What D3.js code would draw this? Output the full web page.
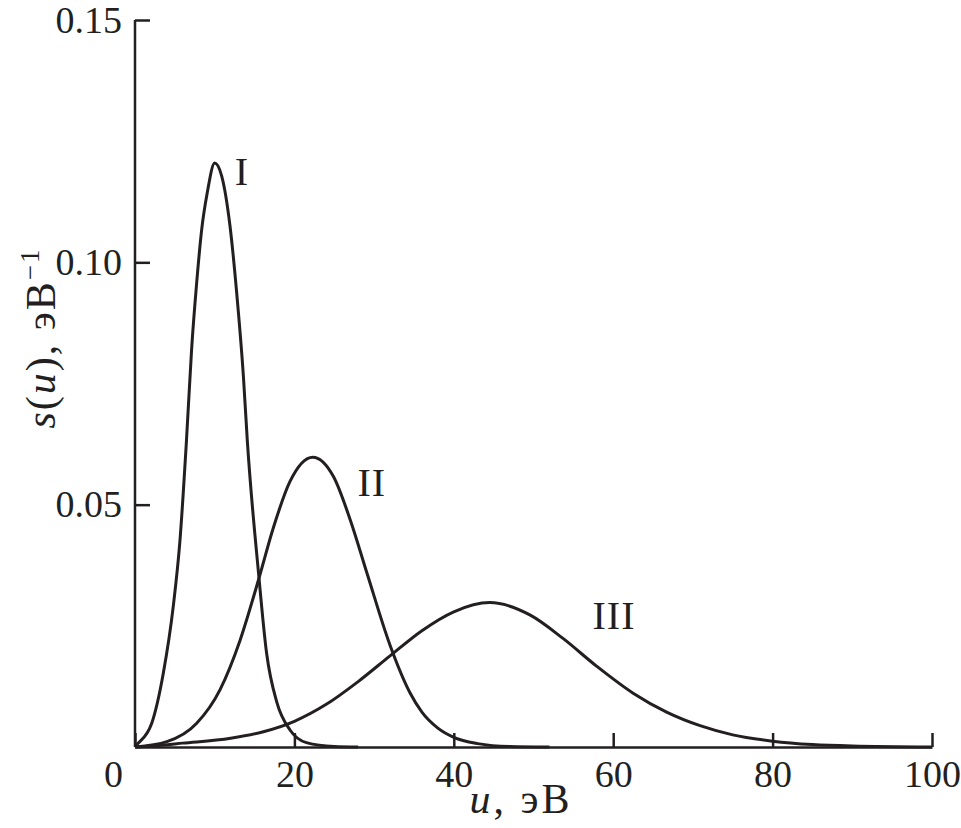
<!doctype html>
<html>
<head>
    <meta charset="utf-8">
    <title>s(u)</title>
    <script src="https://cdnjs.cloudflare.com/ajax/libs/d3/7.8.5/d3.min.js"></script>
    <style>
        body { margin: 0; background: #fff; }
        text { font-family: "Liberation Serif", "Times New Roman", serif; fill: #231f20; }
    </style>
</head>
<body>
<svg width="961" height="828"></svg>
<script>
    // curves: [u, s(u)]
    let curveI = [
        [0, 0], [0.2, 0.0004], [2.1, 0.0049], [3.55, 0.0152], [4.8, 0.029], [5.65, 0.0428],
        [6.45, 0.063], [7.1, 0.082], [7.74, 0.0958], [8.37, 0.1068], [9.07, 0.1144], [10, 0.1205],
        [10.88, 0.1178], [11.92, 0.1075], [12.76, 0.0937], [13.6, 0.0765], [14.1, 0.063],
        [15.5, 0.0359], [16.5, 0.0195], [17.8, 0.0092], [19.45, 0.0035], [21.5, 0.0009],
        [25, 0.0001], [28, 0]
    ];
    let curveII = [
        [0, 0], [4, 0.0011], [7.74, 0.0049], [10.66, 0.0118], [13.2, 0.0221], [15.5, 0.0345],
        [17.35, 0.0452], [19.45, 0.0548], [22.3, 0.0598], [24.9, 0.0558], [27, 0.0469],
        [29.1, 0.0359], [32, 0.021], [34.5, 0.0112], [36, 0.0072], [38, 0.0039], [40, 0.002],
        [43, 0.0007], [47, 0.0001], [52, 0]
    ];
    let curveIII = [
        [0, 0], [2, 0.0002], [6, 0.0008], [12, 0.0018], [16, 0.0031], [20, 0.0053],
        [24, 0.0088], [28, 0.0135], [32, 0.0188], [36, 0.024], [40, 0.0279],
        [44.5, 0.0298], [49.6, 0.0272], [53.7, 0.0224], [57.9, 0.0167], [62.5, 0.0111],
        [66.7, 0.0072], [70.9, 0.0044], [75, 0.0025], [80, 0.0012], [85, 0.0005],
        [90, 0.0002], [100, 0]
    ];
    let curveNames = ["I", "II", "III"];
    // where each roman label sits: [u, s]
    let labelPos = [[13.4, 0.116], [29.7, 0.0518], [60.1, 0.0243]];

    let xTicks = [0, 20, 40, 60, 80, 100];
    let yTicks = [0.05, 0.10, 0.15];

    let svg = d3.select("svg");
    let x = d3.scaleLinear().domain([0, 100]).range([135, 932]);
    let y = d3.scaleLinear().domain([0, 0.15]).range([747, 20]);

    let ink = "#231f20";

    // x axis, ticks pointing up
    let gx = svg.append("g")
        .attr("transform", "translate(0," + y(0) + ")")
        .call(d3.axisBottom(x).tickValues(xTicks).tickSizeInner(-14).tickSizeOuter(0).tickFormat(d3.format("d")));
    gx.selectAll("text")
        .attr("y", 40).attr("dy", 0)
        .attr("dx", function(d) { return d === 0 ? -22 : 0; })
        .style("font-size", "38px");

    // y axis, ticks pointing right
    let gy = svg.append("g")
        .attr("transform", "translate(" + x(0) + ",0)")
        .call(d3.axisLeft(y).tickValues(yTicks).tickSizeInner(-15).tickSizeOuter(0).tickPadding(13).tickFormat(d3.format(".2f")));
    gy.selectAll("text").style("font-size", "38px");

    svg.selectAll(".domain, .tick line").attr("stroke", ink).attr("stroke-width", 2.5);
    svg.selectAll(".tick text").attr("fill", ink).style("font-family", "'Liberation Serif', serif");
    gy.select(".domain").attr("d", "M0," + y(0.15) + "V" + y(0));

    let line = d3.line()
        .x(function(d) { return x(d[0]); })
        .y(function(d) { return y(d[1]); })
        .curve(d3.curveMonotoneX);

    [curveI, curveII, curveIII].forEach(function(c) {
        svg.append("path")
            .datum(c)
            .attr("d", line)
            .attr("fill", "none")
            .attr("stroke", ink)
            .attr("stroke-width", 3)
            .attr("stroke-linejoin", "round");
    });

    svg.selectAll(".curve-label")
        .data(curveNames)
        .enter()
        .append("text")
        .attr("class", "curve-label")
        .attr("x", function(d, i) { return x(labelPos[i][0]); })
        .attr("y", function(d, i) { return y(labelPos[i][1]); })
        .attr("text-anchor", "middle")
        .style("font-size", "40px")
        .style("letter-spacing", "1px")
        .text(function(d) { return d; });

    // axis titles
    let xt = svg.append("text")
        .attr("x", 521).attr("y", 813)
        .attr("text-anchor", "middle")
        .style("font-size", "42px")
        .style("letter-spacing", "3px");
    xt.append("tspan").style("font-style", "italic").text("u");
    xt.append("tspan").text(", эВ");

    let yt = svg.append("text")
        .attr("transform", "translate(55,338) rotate(-90)")
        .attr("text-anchor", "middle")
        .style("font-size", "42px")
        .style("letter-spacing", "2px");
    yt.append("tspan").style("font-style", "italic").text("s");
    yt.append("tspan").text("(");
    yt.append("tspan").style("font-style", "italic").text("u");
    yt.append("tspan").text("), эВ");
    yt.append("tspan").attr("dy", -16).style("font-size", "27px").text("−1");
</script>
</body>
</html>
